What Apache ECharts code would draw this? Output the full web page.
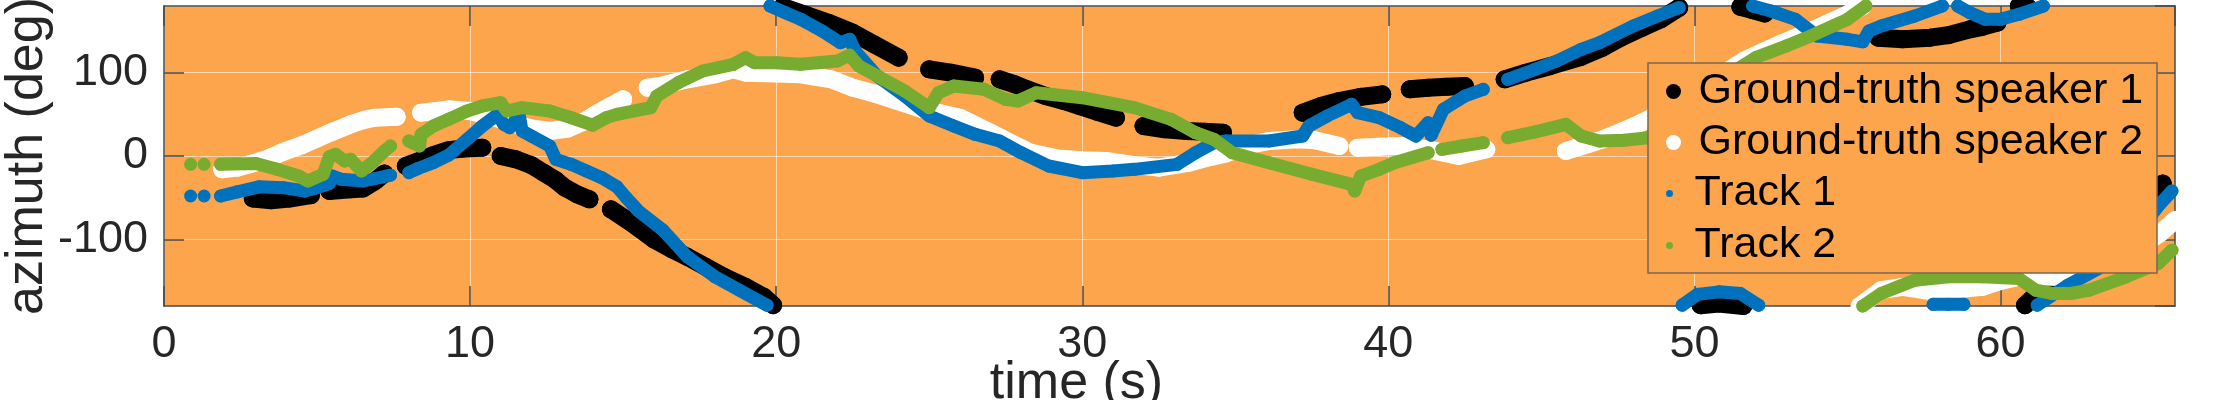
<!DOCTYPE html>
<html><head><meta charset="utf-8">
<script src="https://cdn.jsdelivr.net/npm/echarts@6/dist/echarts.min.js"></script>
<style>html,body{margin:0;padding:0;background:#fff}#c{width:2232px;height:400px}</style>
</head><body><div id="c"></div>
<script>
// ---- data (time s, azimuth deg); each inner array is one continuous run ----
const seriesNames = ['Ground-truth speaker 1','Ground-truth speaker 2','Track 1','Track 2'];
const xTickLabels = [0,10,20,30,40,50,60];
const yTickLabels = [-100,0,100];

const speaker1 = [
 [[2.9,-51],[3.5,-53],[4.1,-51],[4.8,-47]],
 [[5.4,-42],[6.1,-40],[6.5,-39],[6.9,-30],[7.2,-21]],
 [[7.9,-12],[8.4,-5],[8.8,1],[9.3,7],[9.8,9],[10.4,10]],
 [[11.0,0],[11.5,-4],[12.0,-11],[12.4,-20],[12.8,-29],[13.1,-38],[13.5,-46],[13.9,-52]],
 [[14.6,-64],[15.3,-81],[16.0,-100],[16.6,-112],[17.1,-121],[17.7,-133],[18.3,-145],[19.0,-157],[19.6,-169],[19.9,-179]],
 [[20.2,179],[21.0,169],[21.7,160],[22.5,148],[23.2,134],[24.0,118]],
 [[25.0,104],[25.7,100],[26.5,94]],
 [[27.3,92],[27.8,86],[28.2,80],[28.8,72],[29.4,66],[29.9,60],[30.5,53],[31.1,46]],
 [[32.0,36],[32.7,32],[33.4,30],[34.0,29],[34.6,28]],
 [[37.2,52],[37.8,60],[38.4,66],[39.1,71],[39.8,74]],
 [[40.7,80],[41.3,82],[41.9,83],[42.5,84]],
 [[43.8,92],[44.5,100],[45.3,108],[46.3,119],[47.0,130],[47.6,142],[48.3,154],[48.9,164],[49.5,178]],
 [[50.2,-179],[50.8,-177],[51.6,-180]],
 [[51.5,179],[51.9,175],[52.3,171]],
 [[56.0,142],[56.8,140],[57.7,142],[58.3,145],[59.0,152],[59.4,155],[59.9,160]],
 [[60.6,180],[60.9,178]],
 [[60.8,-179],[61.4,-158],[62.1,-150],[62.8,-135],[63.5,-115],[64.2,-90],[64.8,-60],[65.3,-33]]
];

const speaker2 = [
 [[1.9,-16],[2.4,-14],[2.8,-10],[3.4,-3],[3.9,5],[4.5,13],[5.0,21],[5.5,29],[6.1,38],[6.5,43],[6.9,46],[7.6,47]],
 [[8.4,52],[8.9,54],[9.3,56],[10.0,54],[10.4,50],[11.0,44],[11.5,38],[12.0,33],[12.6,30],[13.2,33],[13.7,41],[14.1,50],[14.6,60],[15.0,68]],
 [[15.8,82],[16.2,84],[17.1,92],[18.0,98],[18.6,104],[19.0,100],[20.0,99],[20.8,98],[21.8,92],[22.5,82],[23.2,75],[23.8,68],[24.8,56],[26.0,46],[27.0,28],[27.7,15],[28.3,4],[29.2,-3],[30.0,-5],[30.8,-6],[31.7,-11],[32.5,-14],[33.5,-8],[34.2,-1],[34.7,3],[35.3,12],[36.1,18],[37.0,20],[37.6,19],[38.4,12]],
 [[39.0,10],[39.7,11],[40.4,12],[41.3,8],[42.3,0],[43.2,8]],
 [[45.8,6],[46.5,14],[47.0,20],[47.8,32],[48.5,44],[49.3,62],[50.2,82],[51.0,100],[51.6,114],[52.3,126],[52.9,136],[53.8,150],[55.0,170],[55.5,180]],
 [[55.4,-180],[56.1,-161],[56.8,-157],[57.7,-162],[58.3,-161],[59.4,-157],[60.0,-150],[60.6,-145],[61.2,-145],[61.8,-145],[62.5,-140],[63.5,-125],[64.5,-110],[65.2,-93],[65.7,-77]]
];

const track1 = [
 [[0.87,-48]],
 [[1.31,-48]],
 [[1.85,-48],[2.4,-43],[3.1,-37],[3.9,-38],[4.6,-42],[5.0,-38],[5.4,-33],[5.5,-24],[5.8,-28],[6.5,-30],[6.9,-27],[7.4,-23]],
 [[8.0,-20],[8.3,-15],[8.8,-8],[9.3,1],[9.9,20],[10.4,36],[10.9,50],[11.1,38],[11.3,34],[11.5,44],[11.6,50],[11.7,30],[12.0,24],[12.6,12],[12.8,-4],[13.3,-10],[13.8,-18],[14.3,-26],[14.8,-37],[15.1,-50],[15.5,-66],[16.3,-89],[17.1,-121],[18.0,-145],[18.8,-161],[19.7,-179]],
 [[19.8,180],[20.3,172],[20.8,164],[21.5,150],[22.1,136],[22.4,140],[22.6,125],[23.3,96],[24.2,72],[25.0,48],[25.8,36],[26.5,26],[27.3,18],[28.0,4],[28.9,-12],[30.0,-20],[31.0,-18],[31.7,-16],[33.1,-10],[33.7,4],[34.3,16],[34.7,18],[36.1,18],[37.2,24],[37.4,36],[38.0,48],[38.8,62],[39.0,52],[39.7,46],[40.4,34],[40.9,24],[41.3,40],[41.4,25],[41.8,56],[42.5,72],[43.1,80]],
 [[43.9,92],[44.8,104],[45.5,114],[46.3,128],[46.9,136],[48.0,156],[48.8,168],[49.5,178]],
 [[49.6,-179],[50.1,-166],[50.8,-163],[51.5,-165],[52.1,-179]],
 [[51.9,180],[52.5,174],[53.3,164],[54.0,144],[55.0,140],[55.5,137],[55.7,150],[56.1,156],[57.2,168],[58.1,180]],
 [[58.6,180],[59.0,172],[59.5,164],[60.0,164],[60.6,170],[61.4,180]],
 [[57.8,-178],[58.3,-178],[58.8,-178]],
 [[61.2,-179],[62.2,-155],[63.2,-135],[64.0,-110],[64.7,-82],[65.15,-60],[65.6,-42]]
];

const track2 = [
 [[0.87,-10]],
 [[1.31,-10]],
 [[1.85,-10],[3.0,-9],[3.7,-16],[4.4,-24],[4.7,-30],[5.2,-22],[5.4,-1],[5.6,2],[5.9,-6],[6.1,-4],[6.45,-18],[6.8,-8],[7.2,6],[7.4,12]],
 [[8.0,18],[8.35,12],[8.4,26],[8.8,36],[9.3,44],[9.9,54],[10.4,60],[11.0,64],[11.2,54],[11.7,58],[12.6,54],[13.3,46],[14.0,37],[14.45,46],[14.8,50],[15.9,58],[16.1,72],[16.8,88],[17.6,102],[18.6,110],[19.0,118],[19.3,112],[20.0,112],[20.8,110],[22.0,114],[22.4,121],[22.7,108],[23.5,92],[24.2,78],[25.0,58],[25.3,76],[25.8,84],[26.8,80],[27.5,68],[27.9,66],[28.5,76],[30.0,70],[31.7,58],[32.9,44],[33.7,28],[34.3,20],[34.6,12],[34.9,4],[36.1,-8],[37.5,-22],[38.8,-34],[38.9,-42],[39.1,-24],[39.7,-16],[40.2,-8],[41.3,4]],
 [[41.75,8],[42.4,12],[43.1,16]],
 [[43.9,22],[44.8,29],[45.8,38],[46.3,24],[46.9,18],[47.7,19],[48.5,22],[49.3,40],[50.2,70],[51.0,95],[52.0,118],[53.0,132],[53.8,144],[55.0,164],[55.6,180]],
 [[55.5,-180],[56.1,-165],[57.2,-149],[58.3,-145],[59.4,-145],[60.6,-147],[61.15,-161],[61.7,-165],[62.3,-165],[62.9,-161],[64.1,-145],[65.15,-129],[65.6,-113]]
];

// ---- styling ----
const FONT = '"Liberation Sans", Arial, Helvetica, sans-serif';
const colors = ['#000000','#ffffff','#0072BD','#77AC30'];
const sizes = [18,18,13,13];
const BG = '#FCA54C';
const AXC = '#4a4a4a';

function mk(name, segs, color, size, z){
  return segs.map(seg => ({
    type:'line', name:name, data:seg, color:color,
    symbol:'circle', symbolSize:size, showSymbol:true, showAllSymbol:true,
    lineStyle:{color:color, width:size, cap:'round', join:'round'},
    itemStyle:{color:color, borderWidth:0},
    z:z, clip:false, animation:false, silent:true, emphasis:{disabled:true}
  }));
}
const allData = [speaker1, speaker2, track1, track2];
let series = [];
allData.forEach((segs,i)=>{ series = series.concat(mk(seriesNames[i], segs, colors[i], sizes[i], 2+i*0.01)); });

const tickSize = 45;
const chart = echarts.init(document.getElementById('c'), null, {renderer:'canvas'});
chart.setOption({
  animation:false,
  textStyle:{fontFamily:FONT},
  grid:{left:164, right:57, top:6, bottom:94, show:true, backgroundColor:BG, borderWidth:0, containLabel:false, outerBoundsMode:'none'},
  xAxis:[{
    type:'value', min:0, max:65.7, interval:10, position:'bottom',
    name:'time (s)', nameLocation:'middle', nameGap:52, nameMoveOverlap:false,
    nameTextStyle:{fontSize:52, color:'#262626', fontFamily:FONT, padding:[0,186,0,0]},
    axisLine:{show:true, onZero:false, lineStyle:{color:AXC, width:1.5}},
    axisTick:{show:true, inside:true, length:20, lineStyle:{color:AXC, width:1.5}},
    axisLabel:{show:true, fontSize:tickSize, color:'#262626', fontFamily:FONT, margin:16, showMaxLabel:false,
      formatter:v => xTickLabels.includes(v) ? String(v) : ''},
    splitLine:{show:true, lineStyle:{color:'rgba(255,255,255,0.55)', width:1}}
  },{
    type:'value', min:0, max:65.7, interval:10, position:'top',
    axisLine:{show:true, onZero:false, lineStyle:{color:AXC, width:1.5}},
    axisTick:{show:true, inside:true, length:20, lineStyle:{color:AXC, width:1.5}},
    axisLabel:{show:false}, splitLine:{show:false}
  }],
  yAxis:[{
    type:'value', min:-180, max:180, splitNumber:4, position:'left',
    name:'azimuth (deg)', nameLocation:'middle', nameGap:110, nameRotate:90, nameMoveOverlap:false,
    nameTextStyle:{fontSize:52, color:'#262626', fontFamily:FONT},
    axisLine:{show:true, onZero:false, lineStyle:{color:AXC, width:1.5}},
    axisTick:{show:true, inside:true, length:20, lineStyle:{color:AXC, width:1.5}},
    axisLabel:{show:true, fontSize:tickSize, color:'#262626', fontFamily:FONT, margin:16, showMinLabel:false, showMaxLabel:false,
      formatter:v => yTickLabels.includes(v) ? String(v) : ''},
    splitLine:{show:true, lineStyle:{color:'rgba(255,255,255,0.55)', width:1}}
  },{
    type:'value', min:-180, max:180, splitNumber:4, position:'right',
    axisLine:{show:true, onZero:false, lineStyle:{color:AXC, width:1.5}},
    axisTick:{show:true, inside:true, length:20, lineStyle:{color:AXC, width:1.5}},
    axisLabel:{show:false}, splitLine:{show:false}
  }],
  graphic:[{
    type:'rect', z:3, silent:true,
    shape:{x:1648, y:63, width:509, height:210},
    style:{fill:BG, stroke:'#7a6650', lineWidth:1.5}
  }],
  legend:[{
    orient:'vertical', left:1666, top:70, padding:0, itemGap:8, z:5,
    itemWidth:40, itemHeight:15, selectedMode:false,
    textStyle:{fontSize:43, color:'#000', fontFamily:FONT, lineHeight:43},
    data:[{name:seriesNames[0], icon:'circle'},{name:seriesNames[1], icon:'circle'}]
  },{
    orient:'vertical', left:1666, top:172, padding:0, itemGap:9, z:5,
    itemWidth:40, itemHeight:7, selectedMode:false,
    textStyle:{fontSize:43, color:'#000', fontFamily:FONT, lineHeight:43},
    data:[{name:seriesNames[2], icon:'circle'},{name:seriesNames[3], icon:'circle'}]
  }],
  series:series
});
</script></body></html>
